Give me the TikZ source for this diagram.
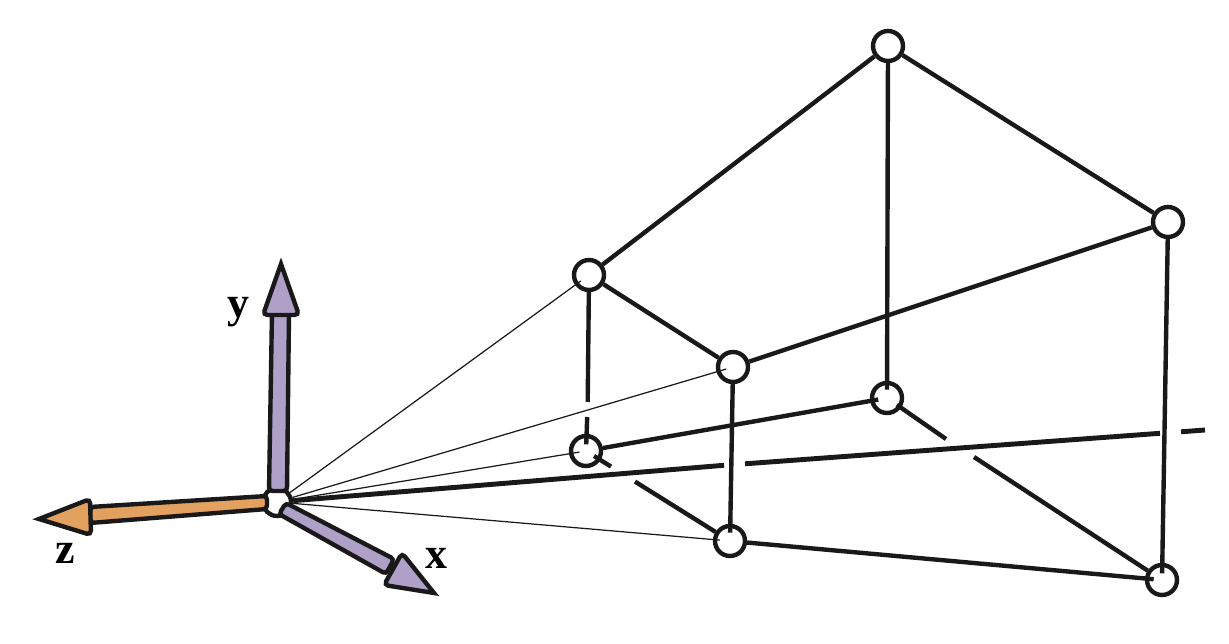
\documentclass[tikz,border=0pt]{standalone}
\usepackage{fontspec}
\setmainfont{Liberation Serif}
\definecolor{axispurple}{HTML}{AFA0C8}
\definecolor{axisorange}{HTML}{E3A160}
\tikzset{
	vertex/.style={circle,draw=black!90,fill=white,line width=2.5pt,minimum size=0.6cm,inner sep=0pt},
	hub/.style={circle,draw=black!90,fill=white,line width=2.5pt,minimum size=0.56cm,inner sep=0pt},
	edge/.style={draw=black!90,line width=2.5pt},
	viewline/.style={draw=black!90,line width=2.8pt},
	ray/.style={draw=black!90,line width=0.7pt},
	into/.style={shorten >=-#1pt},
	outof/.style={shorten <=-#1pt},
	axispart/.style={draw=black!90,line width=2.5pt,line join=miter},
	axislabel/.style={font=\bfseries\fontsize{25}{25}\selectfont,inner sep=0pt}
}
\begin{document}
\begin{tikzpicture}[x=0.02cm,y=-0.02cm]
	\useasboundingbox (0,0) rectangle (1229,644);
	\node[hub] (origin) at (277,502) {};
	\node[vertex] (v1) at (589,275) {};
	\node[vertex] (v2) at (733,367) {};
	\node[vertex] (v3) at (888,46) {};
	\node[vertex] (v4) at (1168,222) {};
	\node[vertex] (v5) at (586,451) {};
	\node[vertex] (v6) at (887,398) {};
	\node[vertex] (v7) at (730,541) {};
	\node[vertex] (v8) at (1162,580) {};
	\coordinate (gapa) at (587.7,402);
	\coordinate (gapb) at (587.2,417);
	\coordinate (gapc) at (611,466.6);
	\coordinate (gapd) at (635,481.6);
	\coordinate (gape) at (946,439);
	\coordinate (gapf) at (974,457);
	\coordinate (axisa) at (724,465.3);
	\coordinate (axisb) at (745,463.8);
	\coordinate (axisc) at (1160,433.3);
	\coordinate (axisd) at (1181,431.8);
	\coordinate (axise) at (1205,430);
	\draw[edge] (v1) -- (v3);
	\draw[edge] (v3) -- (v4);
	\draw[edge] (v1) -- (v2);
	\draw[edge] (v2) -- (v4);
	\draw[edge] (v1) -- (gapa);
	\draw[edge,into=6] (gapb) -- (v5);
	\draw[edge,into=5] (v2) -- (v7);
	\draw[edge,into=5] (v3) -- (v6);
	\draw[edge,into=6] (v4) -- (v8);
	\draw[edge,into=4.7] (v5) -- (v6);
	\draw[edge,into=5] (v7) -- (v8);
	\draw[edge,outof=4.4] (v5) -- (gapc);
	\draw[edge] (gapd) -- (v7);
	\draw[edge,outof=3] (v6) -- (gape);
	\draw[edge] (gapf) -- (v8);
	\draw[viewline] (origin) -- (axisa);
	\draw[viewline] (axisb) -- (axisc);
	\draw[viewline] (axisd) -- (axise);
	\draw[ray,into=4] (origin) -- (v1);
	\draw[ray,into=5.8] (origin) -- (v2);
	\draw[ray,into=6] (origin) -- (v5);
	\draw[ray,into=4] (origin) -- (v7);
	\draw[axispart,fill=axispurple,rounded corners=2pt] (269,491) -- (287,491) -- (289,312) -- (272,312) -- cycle;
	\draw[axispart,fill=axispurple] (281,264) [rounded corners=2.5pt] -- (299,315) -- (263,315) [sharp corners] -- cycle;
	\draw[axispart,fill=axisorange,rounded corners=2pt] (267,496) -- (267,509) -- (90,523) -- (90,507) -- cycle;
	\draw[axispart,fill=axisorange] (39,519) [rounded corners=2.5pt] -- (90,499) -- (91,535) [sharp corners] -- cycle;
	\draw[axispart,fill=axispurple,rounded corners=2pt] (286,503) -- (279,514) -- (386,574) -- (394,559) -- cycle;
	\draw[axispart,fill=axispurple] (434,593) [rounded corners=2.5pt] -- (402,553) -- (384,585) [sharp corners] -- cycle;
	\node[axislabel] (ylabel) at (238,312) {y};
	\node[axislabel] (zlabel) at (65,553) {z};
	\node[axislabel] (xlabel) at (436,558) {x};
\end{tikzpicture}
\end{document}
